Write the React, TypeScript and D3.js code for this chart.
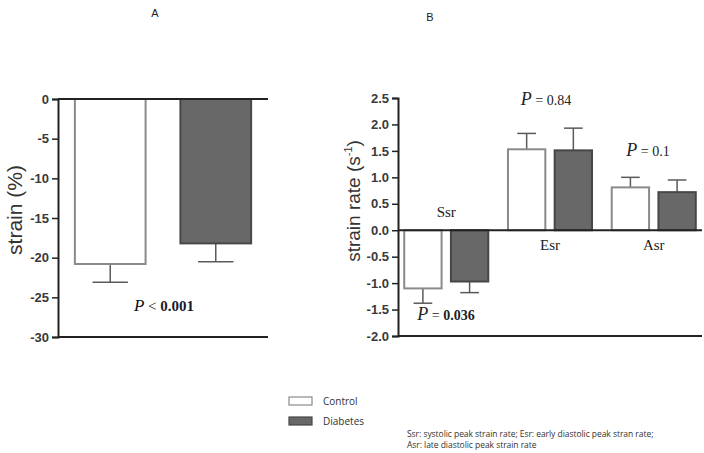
import { useEffect, useRef } from "react";
import * as d3 from "d3";

// panel A: global strain
const groupsA = ["Control", "Diabetes"];
const strainMean = [-20.8, -18.2];
const strainSD = [-2.3, -2.3];
const strainTicks = [0, -5, -10, -15, -20, -25, -30];

// panel B: strain rate
const phases = ["Ssr", "Esr", "Asr"];
const controlRate = [-1.1, 1.53, 0.81];
const controlRateSD = [-0.28, 0.3, 0.19];
const diabetesRate = [-0.97, 1.51, 0.72];
const diabetesRateSD = [-0.21, 0.42, 0.23];
const rateTicks = [2.5, 2.0, 1.5, 1.0, 0.5, 0.0, -0.5, -1.0, -1.5, -2.0];
const pValuesB = ["0.036", "0.84", "0.1"];

const footnote = [
  "Ssr: systolic peak strain rate; Esr: early diastolic peak stran rate;",
  "Asr: late diastolic peak strain rate",
];

const W = 704;
const H = 453;

const App = () => {
  const svgRef = useRef<SVGSVGElement>(null);

  useEffect(() => {
    if (!svgRef.current) return;
    const svg = d3.select(svgRef.current);
    svg.selectAll("*").remove();

    const fills = ["#ffffff", "#686868"];
    const strokes = ["#8a8a8a", "#474747"];
    const errColor = "#5a5a5a";

    // left axis with the GraphPad look (hyphen minus, bold labels)
    const drawAxis = (
      y: d3.ScaleLinear<number, number>,
      x0: number,
      ticks: number[],
      fmt: (d: number) => string
    ) => {
      const g = svg.append("g").attr("transform", `translate(${x0},0)`);
      g.call(
        d3.axisLeft(y).tickValues(ticks).tickSize(6).tickPadding(3).tickFormat((d) => fmt(d as number))
      );
      g.attr("font-family", null).attr("font-size", null);
      g.select(".domain").attr("stroke", "#222").attr("stroke-width", 2);
      g.selectAll(".tick line").attr("stroke", "#222").attr("stroke-width", 1.5);
      g.selectAll(".tick text")
        .attr("fill", "#3a3a3a")
        .style("font-family", "'Liberation Sans', Arial, sans-serif")
        .style("font-weight", "bold")
        .style("font-size", "13px");
    };

    const errBar = (cx: number, yStart: number, yEnd: number, capW: number) => {
      svg.append("line")
        .attr("x1", cx).attr("x2", cx)
        .attr("y1", yStart).attr("y2", yEnd)
        .attr("stroke", errColor).attr("stroke-width", 1.5);
      svg.append("line")
        .attr("x1", cx - capW / 2).attr("x2", cx + capW / 2)
        .attr("y1", yEnd).attr("y2", yEnd)
        .attr("stroke", errColor).attr("stroke-width", 1.5);
    };

    // ---------- Panel A ----------
    const yA = d3.scaleLinear().domain([-30, 0]).range([337, 99]);
    const xA = d3.scaleBand<string>()
      .domain(groupsA)
      .range([58, 268])
      .paddingInner(0.33)
      .paddingOuter(0.16);

    groupsA.forEach((g, i) => {
      const x = xA(g)!;
      const bw = xA.bandwidth();
      errBar(x + bw / 2, yA(strainMean[i]), yA(strainMean[i] + strainSD[i]), bw / 2);
      svg.append("rect")
        .attr("x", x)
        .attr("y", yA(0))
        .attr("width", bw)
        .attr("height", yA(strainMean[i]) - yA(0))
        .attr("fill", fills[i])
        .attr("stroke", strokes[i])
        .attr("stroke-width", 2);
    });

    drawAxis(yA, 58, strainTicks, (d) => String(d));
    [0, -30].forEach((v) => {
      svg.append("line")
        .attr("x1", 58).attr("x2", 268)
        .attr("y1", yA(v)).attr("y2", yA(v))
        .attr("stroke", "#222").attr("stroke-width", 2);
    });

    svg.append("text")
      .attr("transform", `translate(22,210) rotate(-90)`)
      .attr("text-anchor", "middle")
      .attr("font-family", "Liberation Sans, Arial, sans-serif")
      .attr("font-size", 21)
      .attr("fill", "#333")
      .text("strain (%)");

    const pA = svg.append("text")
      .attr("x", 164)
      .attr("y", yA(-26.7))
      .attr("text-anchor", "middle")
      .attr("font-family", "Liberation Serif, Times New Roman, serif")
      .attr("font-size", 15)
      .attr("fill", "#111");
    pA.append("tspan").attr("font-style", "italic").attr("font-size", 17).text("P");
    pA.append("tspan").text(" < ");
    pA.append("tspan").attr("font-weight", "bold").attr("fill", "#1a1a2a").text("0.001");

    svg.append("text")
      .attr("x", 155).attr("y", 17)
      .attr("text-anchor", "middle")
      .attr("font-family", "Liberation Sans, Arial, sans-serif")
      .attr("font-size", 11)
      .attr("fill", "#222")
      .text("A");

    // ---------- Panel B ----------
    const yB = d3.scaleLinear().domain([-2, 2.5]).range([336, 98]);
    const xB = d3.scaleBand<string>()
      .domain(phases)
      .range([398, 702])
      .paddingInner(0.19)
      .paddingOuter(0.06);
    const xInner = d3.scaleBand<string>()
      .domain(groupsA)
      .range([0, xB.bandwidth()])
      .paddingInner(0.2);

    phases.forEach((p, j) => {
      const vals = [controlRate[j], diabetesRate[j]];
      const sds = [controlRateSD[j], diabetesRateSD[j]];
      groupsA.forEach((g, i) => {
        const x = xB(p)! + xInner(g)!;
        const bw = xInner.bandwidth();
        errBar(x + bw / 2, yB(vals[i]), yB(vals[i] + sds[i]), bw / 2);
        svg.append("rect")
          .attr("x", x)
          .attr("y", Math.min(yB(0), yB(vals[i])))
          .attr("width", bw)
          .attr("height", Math.abs(yB(vals[i]) - yB(0)))
          .attr("fill", fills[i])
          .attr("stroke", strokes[i])
          .attr("stroke-width", 2);
      });
    });

    drawAxis(yB, 398, rateTicks, (d) => d.toFixed(1));
    [0, -2].forEach((v) => {
      svg.append("line")
        .attr("x1", 398).attr("x2", 702)
        .attr("y1", yB(v)).attr("y2", yB(v))
        .attr("stroke", "#222").attr("stroke-width", 2);
    });

    // phase labels
    phases.forEach((p, j) => {
      const cx = xB(p)! + xB.bandwidth() / 2;
      const above = controlRate[j] < 0;
      svg.append("text")
        .attr("x", cx)
        .attr("y", above ? yB(0) - 13 : yB(0) + 20)
        .attr("text-anchor", "middle")
        .attr("font-family", "Liberation Serif, Times New Roman, serif")
        .attr("font-size", 15)
        .attr("fill", "#222")
        .text(p);
    });

    // p-values
    const pPos = [
      { x: 446, y: yB(-1.7), bold: true },
      { x: 546, y: yB(2.37), bold: false },
      { x: 648, y: yB(1.4), bold: false },
    ];
    pValuesB.forEach((v, j) => {
      const t = svg.append("text")
        .attr("x", pPos[j].x)
        .attr("y", pPos[j].y)
        .attr("text-anchor", "middle")
        .attr("font-family", "Liberation Serif, Times New Roman, serif")
        .attr("font-size", 15)
        .attr("fill", "#222");
      t.append("tspan").attr("font-style", "italic").attr("font-size", 18).text("P");
      t.append("tspan").attr("font-size", 14).text(" = ");
      t.append("tspan")
        .attr("font-size", 14)
        .attr("font-weight", pPos[j].bold ? "bold" : "normal")
        .text(v);
    });

    const yl = svg.append("text")
      .attr("transform", `translate(360,201) rotate(-90)`)
      .attr("text-anchor", "middle")
      .attr("font-family", "Liberation Sans, Arial, sans-serif")
      .attr("font-size", 19)
      .attr("fill", "#333");
    yl.append("tspan").text("strain rate (s");
    yl.append("tspan").attr("font-size", 11).attr("dy", -8).text("-1");
    yl.append("tspan").attr("dy", 8).text(")");

    svg.append("text")
      .attr("x", 430).attr("y", 21)
      .attr("text-anchor", "middle")
      .attr("font-family", "Liberation Sans, Arial, sans-serif")
      .attr("font-size", 11)
      .attr("fill", "#222")
      .text("B");

    // ---------- legend ----------
    groupsA.forEach((g, i) => {
      const ly = 397 + i * 20;
      svg.append("rect")
        .attr("x", 289).attr("y", ly)
        .attr("width", 23).attr("height", 8)
        .attr("fill", fills[i])
        .attr("stroke", strokes[i])
        .attr("stroke-width", 1.2);
      svg.append("text")
        .attr("x", 323).attr("y", ly + 7.5)
        .attr("font-family", "Open Sans, sans-serif")
        .attr("font-size", 10)
        .attr("fill", "#333")
        .text(g);
    });

    // footnote
    footnote.forEach((line, i) => {
      svg.append("text")
        .attr("x", 407).attr("y", 437 + i * 11)
        .attr("font-family", "Open Sans, sans-serif")
        .attr("font-size", 8.5)
        .attr("letter-spacing", -0.05)
        .attr("fill", "#333")
        .text(line);
    });
  }, []);

  return (
    <div style={{ position: "absolute", left: 0, top: 0, width: W, height: H, background: "#fff" }}>
      <svg ref={svgRef} width={W} height={H} viewBox={`0 0 ${W} ${H}`} />
    </div>
  );
};

export default App;
